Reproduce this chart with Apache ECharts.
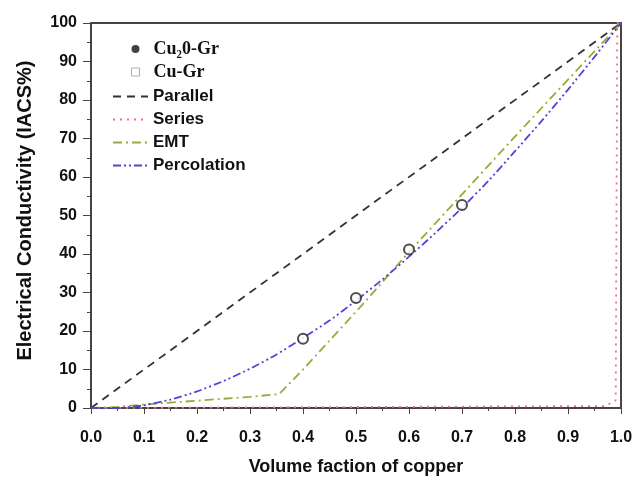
<!DOCTYPE html>
<html>
<head>
<meta charset="utf-8">
<script src="https://cdn.jsdelivr.net/npm/echarts@6/dist/echarts.min.js"></script>
<style>
  html, body { margin: 0; padding: 0; background: #fff; }
  #main { width: 636px; height: 481px; }
</style>
</head>
<body>
<div id="main"></div>
<script>
// measured points (volume fraction, conductivity %IACS)
const pointX = [0.4, 0.5, 0.6, 0.7]
const pointY = [18, 28.6, 41.2, 52.7]

// model curves
const parallelX = [0, 1]
const parallelY = [0, 100]

const seriesX = [0, 0.97, 0.99, 0.993, 1]
const seriesY = [0, 0.5, 2, 100, 100]

const emtX = [0, 0.05, 0.1, 0.15, 0.2, 0.25, 0.3, 0.355, 0.4, 0.45, 0.5, 0.6, 0.7, 0.8, 0.9, 1]
const emtY = [0, 0.3, 0.9, 1.4, 1.9, 2.4, 2.9, 3.6, 10, 17.5, 25, 40.5, 55.5, 70.5, 85.3, 100]

const percX = [0, 0.05, 0.1, 0.15, 0.2, 0.25, 0.3, 0.35, 0.4, 0.45, 0.5, 0.55, 0.6, 0.65, 0.7, 0.75, 0.8, 0.85, 0.9, 0.95, 1]
const percY = [0, 0, 0.7, 2.2, 4.3, 7, 10.2, 13.9, 18.2, 22.7, 27.9, 33.4, 39.3, 45.5, 52, 59, 66.7, 74.5, 82.7, 91.2, 100]

const xTicks = ['0.0', '0.1', '0.2', '0.3', '0.4', '0.5', '0.6', '0.7', '0.8', '0.9', '1.0']

const pairs = (xs, ys) => xs.map((x, i) => [x, ys[i]])

const chart = echarts.init(document.getElementById('main'))

const labelFont = { fontFamily: 'Liberation Sans, Arial', fontWeight: 'bold', fontSize: 16, color: '#111' }

chart.setOption({
  animation: false,
  backgroundColor: '#fff',
  grid: { left: 91, right: 15, top: 23, bottom: 69 },
  legend: [
    {
      orient: 'vertical',
      left: 126,
      top: 35,
      itemWidth: 8,
      itemHeight: 8,
      itemGap: 5,
      data: [
        { name: 'Cu₂0-Gr', icon: 'circle', itemStyle: { color: '#111', borderWidth: 0 } },
        { name: 'Cu-Gr', icon: 'path://M0 0H10V10H0Z', itemStyle: { color: '#fff', borderColor: '#999', borderWidth: 1 } }
      ],
      textStyle: { fontFamily: 'Liberation Serif, Times New Roman', fontWeight: 'bold', fontSize: 18, color: '#111', padding: [0, 0, 0, 9] }
    },
    {
      orient: 'vertical',
      left: 107,
      top: 83,
      itemWidth: 35,
      itemHeight: 14,
      itemGap: 6,
      itemStyle: { opacity: 0 },
      data: ['Parallel', 'Series', 'EMT', 'Percolation'],
      textStyle: { fontFamily: 'Liberation Sans, Arial', fontWeight: 'bold', fontSize: 17, color: '#111' }
    }
  ],
  xAxis: [
    {
      type: 'value',
      min: 0,
      max: 1,
      interval: 0.1,
      name: 'Volume faction of copper',
      nameLocation: 'middle',
      nameGap: 50,
      nameTextStyle: { fontFamily: 'Liberation Sans, Arial', fontWeight: 'bold', fontSize: 18, color: '#111' },
      axisLine: { lineStyle: { color: '#444', width: 2 } },
      axisTick: { inside: false, length: 6, lineStyle: { color: '#444' } },
      minorTick: { show: true, splitNumber: 2, length: 3, lineStyle: { color: '#444' } },
      axisLabel: Object.assign({ margin: 22, formatter: v => xTicks[Math.round(v * 10)] }, labelFont),
      splitLine: { show: false }
    },
    {
      type: 'value', position: 'top', min: 0, max: 1,
      axisLine: { show: true, onZero: false, lineStyle: { color: '#444', width: 2 } },
      axisTick: { show: false }, axisLabel: { show: false }, splitLine: { show: false }
    }
  ],
  yAxis: [
    {
      type: 'value',
      min: 0,
      max: 100,
      interval: 10,
      name: 'Electrical Conductivity (IACS%)',
      nameLocation: 'middle',
      nameGap: 56,
      nameTextStyle: { fontFamily: 'Liberation Sans, Arial', fontWeight: 'bold', fontSize: 20, color: '#111', padding: [0, 0, 0, 10] },
      axisLine: { show: true, lineStyle: { color: '#444', width: 2 } },
      axisTick: { show: true, inside: false, length: 8, lineStyle: { color: '#444' } },
      minorTick: { show: true, splitNumber: 2, length: 4, lineStyle: { color: '#444' } },
      axisLabel: Object.assign({ margin: 14 }, labelFont),
      splitLine: { show: false }
    },
    {
      type: 'value', position: 'right', min: 0, max: 100,
      axisLine: { show: true, onZero: false, lineStyle: { color: '#444', width: 2 } },
      axisTick: { show: false }, axisLabel: { show: false }, splitLine: { show: false }
    }
  ],
  series: [
    {
      name: 'Parallel', type: 'line', symbol: 'none', data: pairs(parallelX, parallelY),
      lineStyle: { color: '#333', width: 1.8, type: [8, 6] }, itemStyle: { color: '#333' }
    },
    {
      name: 'Series', type: 'line', symbol: 'none', data: pairs(seriesX, seriesY),
      lineStyle: { color: '#ee6f8c', width: 1.8, type: [2, 5] }, itemStyle: { color: '#ee6f8c' }
    },
    {
      name: 'EMT', type: 'line', symbol: 'none', data: pairs(emtX, emtY),
      lineStyle: { color: '#9aab3c', width: 1.8, type: [9, 4, 2, 4] }, itemStyle: { color: '#9aab3c' }
    },
    {
      name: 'Percolation', type: 'line', symbol: 'none', smooth: 0.2, data: pairs(percX, percY),
      lineStyle: { color: '#4a46d6', width: 1.8, type: [8, 3, 2, 3, 2, 3] }, itemStyle: { color: '#4a46d6' }
    },
    {
      name: 'Cu₂0-Gr', type: 'scatter', symbol: 'emptyCircle', symbolSize: 10, z: 5,
      data: pairs(pointX, pointY),
      itemStyle: { color: '#222', borderColor: '#222', borderWidth: 2 }
    },
    { name: 'Cu-Gr', type: 'scatter', data: [] }
  ]
})
</script>
</body>
</html>
